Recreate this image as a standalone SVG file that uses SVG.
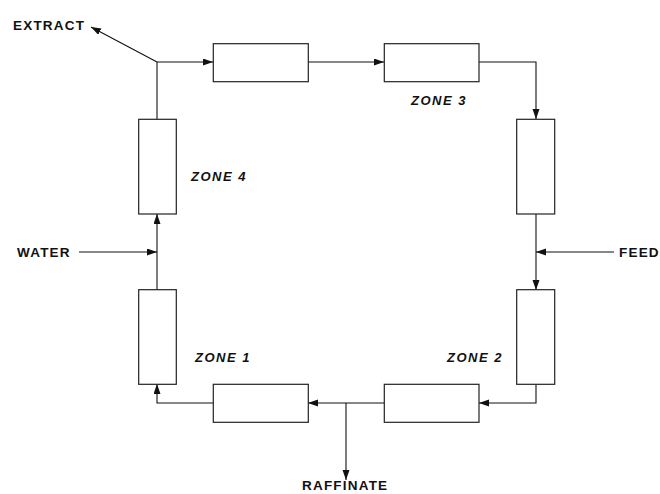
<svg xmlns="http://www.w3.org/2000/svg" width="660" height="494" viewBox="0 0 660 494">
<style>
.box{fill:#fff;stroke:#222;stroke-width:1.2}
.ln{fill:none;stroke:#111;stroke-width:1.1}
.arr{marker-end:url(#ah)}
.lbl{font-family:"Liberation Sans",Arial,sans-serif;font-weight:bold;font-size:13.5px;letter-spacing:1.2px;fill:#111}
.zone{font-family:"Liberation Sans",Arial,sans-serif;font-weight:bold;font-style:italic;font-size:13px;letter-spacing:1.5px;fill:#111}
</style>
<defs>
<marker id="ah" markerUnits="userSpaceOnUse" markerWidth="10" markerHeight="8" refX="10" refY="3.5" orient="auto">
<path d="M0,0 L10,3.5 L0,7 z" fill="#111"/>
</marker>
</defs>
<rect width="660" height="494" fill="#fff"/>
<g id="connectors">
<path class="ln" d="M157,119 V62"/>
<path class="ln arr" d="M157,62 H213"/>
<path class="ln arr" d="M157,62 L91,27"/>
<path class="ln arr" d="M308,62 H384"/>
<path class="ln arr" d="M479,62 H536 V119"/>
<path class="ln arr" d="M536,214 V290"/>
<path class="ln arr" d="M614,252 H536"/>
<path class="ln arr" d="M536,384 V403 H479"/>
<path class="ln arr" d="M384,403 H308"/>
<path class="ln arr" d="M346,403 V480"/>
<path class="ln arr" d="M213,403 H157 V384"/>
<path class="ln arr" d="M157,290 V214"/>
<path class="ln arr" d="M79,252 H157"/>
</g>
<g id="zone4-col"><rect class="box" x="138.7" y="119.3" width="37.6" height="94.7"/></g>
<g id="zone4-top"><rect class="box" x="213.3" y="43.7" width="95" height="38"/></g>
<g id="zone3-top"><rect class="box" x="384.3" y="43.7" width="94.7" height="38"/></g>
<g id="zone3-col"><rect class="box" x="516.7" y="119.3" width="38" height="94.7"/></g>
<g id="zone2-col"><rect class="box" x="516.7" y="289.7" width="38" height="94.6"/></g>
<g id="zone2-bot"><rect class="box" x="384.3" y="384.3" width="94.7" height="38"/></g>
<g id="zone1-bot"><rect class="box" x="213.3" y="384.3" width="95" height="38"/></g>
<g id="zone1-col"><rect class="box" x="138.7" y="289.7" width="37.6" height="94.6"/></g>
<g id="labels">
<text class="lbl" x="13" y="30">EXTRACT</text>
<text class="lbl" x="17" y="257">WATER</text>
<text class="lbl" x="619" y="257">FEED</text>
<text class="lbl" x="302" y="490">RAFFINATE</text>
<text class="zone" x="411" y="105">ZONE 3</text>
<text class="zone" x="191" y="181">ZONE 4</text>
<text class="zone" x="195" y="362">ZONE 1</text>
<text class="zone" x="447" y="362">ZONE 2</text>
</g>
</svg>
